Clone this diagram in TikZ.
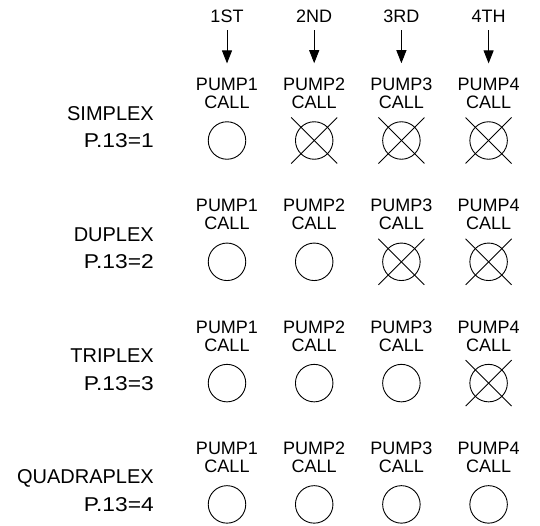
\documentclass[tikz,border=0pt]{standalone}
\usepackage{graphicx}
\usepackage{fontspec}
\setmainfont{Liberation Sans}
\usetikzlibrary{arrows.meta}
\begin{document}
\begin{tikzpicture}[x=1pt,y=-1pt,
  lbl/.style={inner sep=0pt, font=\fontsize{18}{20}\selectfont, anchor=base},
  rlbl/.style={inner sep=0pt, font=\fontsize{20}{22}\selectfont, anchor=base east},
  lamp/.style={circle, draw, line width=0.9pt, minimum size=37.5pt, inner sep=0pt},
  xline/.style={line width=0.9pt},
  callarrow/.style={line width=0.9pt, -{Triangle[width=10pt,length=13pt]}}]
\useasboundingbox (0,0) rectangle (540,525);
\foreach \t [count=\i] in {1ST,2ND,3RD,4TH} {
  \node[lbl] (h\i) at ({139.8+87.2*\i},22) {\t};
}
\foreach \name [count=\r] in {SIMPLEX,DUPLEX,TRIPLEX,QUADRAPLEX} {
  \pgfmathsetmacro{\dy}{121.3*(\r-1)}
  \node[rlbl] (n\r) at (154,120+\dy) {\name};
  \node[rlbl] (p\r) at (154,147.5+\dy) {\scalebox{1.14}[1]{P.13=\r}};
  \foreach \c in {1,...,4} {
    \node[lbl] (u\r\c) at ({139.8+87.2*\c},90.5+\dy) {PUMP\c};
    \node[lbl] (k\r\c) at ({139.8+87.2*\c},108.5+\dy) {CALL};
    \node[lamp] (c\r\c) at ({139.8+87.2*\c},140.5+\dy) {};
    \ifnum\c>\r
      \draw[xline] ([shift={(-23,-23)}]c\r\c.center) -- ([shift={(23,23)}]c\r\c.center);
      \draw[xline] ([shift={(-23,23)}]c\r\c.center) -- ([shift={(23,-23)}]c\r\c.center);
    \fi
  }
}
\foreach \i in {1,...,4} {
  \draw[callarrow, shorten <=8pt, shorten >=14.5pt] (h\i.south) -- (u1\i.north);
}
\end{tikzpicture}
\end{document}
